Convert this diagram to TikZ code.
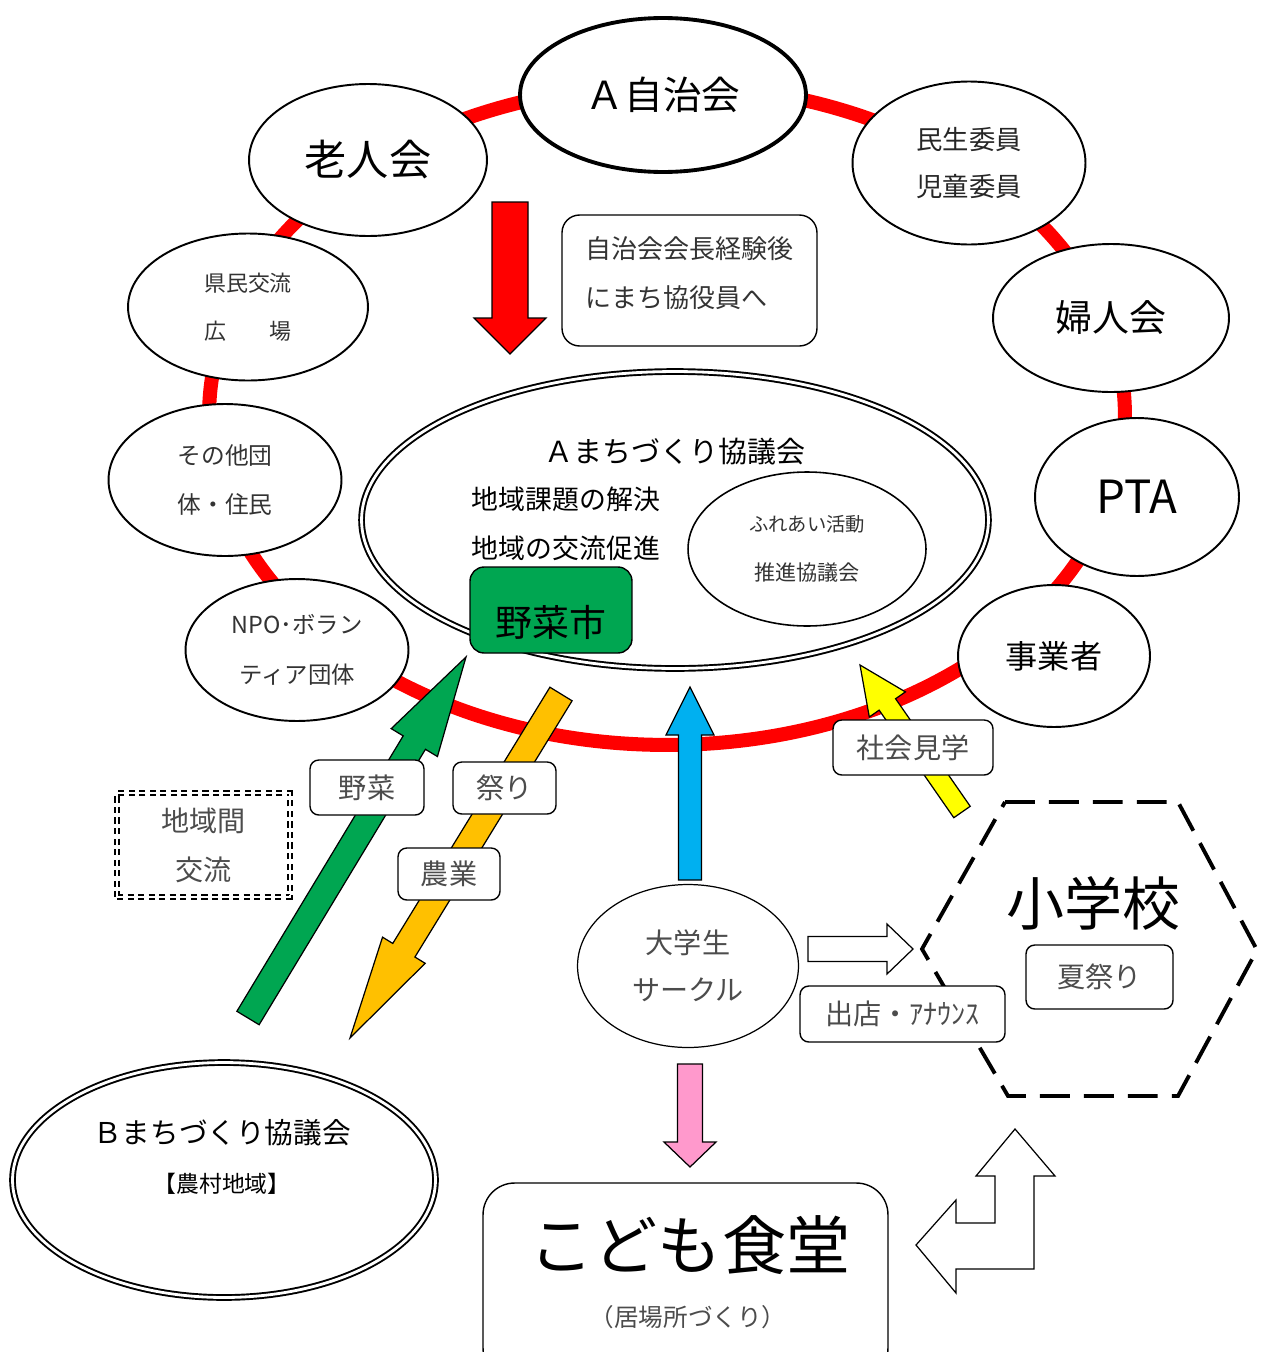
\documentclass[tikz,border=0pt]{standalone}
\usepackage{fontspec}
\setmainfont{Noto Sans CJK JP}
\usetikzlibrary{shapes.geometric,calc}

\definecolor{yasaigreen}{RGB}{0,166,81}
\definecolor{matsuriorange}{RGB}{255,192,0}
\definecolor{gakuseiblue}{RGB}{0,176,240}
\definecolor{kengakuyellow}{RGB}{255,255,0}
\definecolor{shokudopink}{RGB}{255,153,204}

% block arrow: [style]{tail}{tip}{half shaft}{half head}{head length}
\newcommand{\blockarrow}[6][]{%
    \coordinate (neck) at ($(#3)!#6!(#2)$);
    \draw[blockline,#1] ($(#2)!#4!90:(#3)$) -- ($(neck)!#4!90:(#3)$)
        -- ($(neck)!#5!90:(#3)$) -- (#3) -- ($(neck)!#5!-90:(#3)$)
        -- ($(neck)!#4!-90:(#3)$) -- ($(#2)!#4!-90:(#3)$) -- cycle;
}

\begin{document}
\begin{tikzpicture}[x=0.02cm, y=-0.02cm]

    % Define styles
    \tikzset{
        ring/.style={line width=8pt, draw=red},
        member/.style={ellipse, draw=black, line width=1.1pt, fill=white, inner sep=0pt, align=center},
        council/.style={ellipse, draw=black, double, double distance=1.6pt, line width=1.1pt, fill=white, inner sep=0pt},
        tagbox/.style={rectangle, draw=black, rounded corners=5pt, line width=0.8pt, fill=white, inner sep=0pt, align=center, text=black!70, font=\fontsize{16}{28}\selectfont},
        blockline/.style={draw=black, line width=0.7pt}
    }

    \useasboundingbox (0,0) rectangle (1262,1352);
    \clip (0,0) rectangle (1262,1352);

    % Red ring joining the groups
    \draw[ring] (667,415) ellipse [x radius=9.16cm, y radius=6.6cm];

    % Groups on the ring
    \node[member, line width=2.2pt, minimum width=5.72cm, minimum height=3.08cm,
          font=\fontsize{22}{26}\selectfont] (jichikai) at (663,95) {Ａ自治会};
    \node[member, minimum width=4.76cm, minimum height=3.04cm,
          font=\fontsize{24}{28}\selectfont] (roujin) at (368,160) {老人会};
    \node[member, minimum width=4.66cm, minimum height=3.26cm, text=black!85,
          font=\fontsize{15}{27}\selectfont] (minsei) at (969,163) {民生委員\\児童委員};
    \node[member, minimum width=4.8cm, minimum height=2.94cm, text=black!80,
          font=\fontsize{12.5}{27}\selectfont] (kenmin) at (248,307) {県民交流\\広　　場};
    \node[member, minimum width=4.72cm, minimum height=2.96cm,
          font=\fontsize{21}{26}\selectfont] (fujin) at (1111,318) {婦人会};
    \node[member, minimum width=4.66cm, minimum height=3.04cm, text=black!80,
          font=\fontsize{13.5}{28}\selectfont] (sonota) at (225,480) {その他団\\体・住民};
    \node[member, minimum width=4.08cm, minimum height=3.16cm,
          font=\fontsize{26}{30}\selectfont] (pta) at (1137,497) {PTA};
    \node[member, minimum width=4.46cm, minimum height=2.84cm, text=black!80,
          font=\fontsize{13.3}{28.5}\selectfont] (npo) at (297,650) {NPO･ボラン\\ティア団体};
    \node[member, minimum width=3.84cm, minimum height=2.84cm,
          font=\fontsize{18.3}{22}\selectfont] (jigyou) at (1054,656) {事業者};

    % A council in the middle
    \node[council, minimum width=12.54cm, minimum height=5.94cm] (acouncil) at (675,520) {};
    \node[font=\fontsize{16.5}{20}\selectfont] (acouncil-name) at (675,452) {Ａまちづくり協議会};
    \node[align=left, font=\fontsize{15.3}{28}\selectfont] (acouncil-aims) at (566,524) {地域課題の解決\\地域の交流促進};
    \node[member, line width=0.9pt, minimum width=4.76cm, minimum height=3.08cm, text=black!80,
          font=\fontsize{11}{28}\selectfont] (fureai) at (807,549) {ふれあい活動\\{\fontsize{12}{28}\selectfont 推進協議会}};
    \node[rectangle, draw=black, line width=0.8pt, rounded corners=8pt, fill=yasaigreen,
          minimum width=3.24cm, minimum height=1.72cm] (yasaiichi) at (551,610) {};
    \node[font=\fontsize{21}{24}\selectfont] (yasaiichi-name) at (551,622) {野菜市};

    % From the A association into the council
    \coordinate (red-tail) at (510,202);
    \coordinate (red-tip) at (510,354);
    \blockarrow[fill=red]{red-tail}{red-tip}{0.36cm}{0.72cm}{0.72cm}
    \node[tagbox, rounded corners=10pt, minimum width=5.1cm, minimum height=2.62cm] (note) at (689.5,280.5) {};
    \node[align=left, text=black!80, font=\fontsize{14.8}{28}\selectfont] (note-text) at (689.5,273) {自治会会長経験後\\にまち協役員へ};

    % Arrows between the councils, the students and the school
    \coordinate (green-tail) at (248,1018);
    \coordinate (green-tip) at (466,657);
    \coordinate (orange-tail) at (561,694);
    \coordinate (orange-tip) at (350,1038);
    \coordinate (blue-tail) at (690,880);
    \coordinate (blue-tip) at (690,687);
    \coordinate (yellow-tail) at (962,812);
    \coordinate (yellow-tip) at (860,665);
    \blockarrow[fill=yasaigreen]{green-tail}{green-tip}{0.26cm}{0.54cm}{2cm}
    \blockarrow[fill=matsuriorange]{orange-tail}{orange-tip}{0.26cm}{0.5cm}{2.06cm}
    \blockarrow[fill=gakuseiblue]{blue-tail}{blue-tip}{0.23cm}{0.48cm}{0.96cm}
    \blockarrow[fill=kengakuyellow]{yellow-tail}{yellow-tip}{0.2cm}{0.44cm}{0.96cm}

    \node[tagbox, minimum width=2.28cm, minimum height=1.1cm] (veg-tag) at (367,787.5) {野菜};
    \node[tagbox, minimum width=2.06cm, minimum height=1.04cm] (fes-tag) at (504.5,788) {祭り};
    \node[tagbox, minimum width=2.04cm, minimum height=1.04cm] (farm-tag) at (449,874) {農業};
    \node[tagbox, minimum width=3.2cm, minimum height=1.1cm] (visit-tag) at (913,747.5) {社会見学};

    % Exchange between areas
    \node[rectangle, draw=black, dash pattern=on 3.5pt off 2.5pt, double, double distance=1.5pt, line width=1.2pt,
          minimum width=3.46cm, minimum height=2.08cm, align=center, text=black!70,
          font=\fontsize{16}{28}\selectfont] (exchange) at (203.5,845) {地域間\\交流};

    % Elementary school
    \draw[line width=2.2pt, dash pattern=on 17pt off 8pt] (1005,802) -- (1178,802) -- (1257,950)
        -- (1178,1096) -- (1008,1096) -- (922,949) -- cycle;
    \node[font=\fontsize{33}{36}\selectfont] (shogakko) at (1093,903) {小学校};
    \node[tagbox, minimum width=2.94cm, minimum height=1.28cm] (natsu-tag) at (1099.5,977) {夏祭り};

    % Student circle
    \node[member, line width=0.7pt, minimum width=4.42cm, minimum height=3.26cm, text=black!70,
          font=\fontsize{16}{27}\selectfont] (daigaku) at (688,966) {大学生\\サークル};
    \coordinate (white-tail) at (808,949);
    \coordinate (white-tip) at (913,949);
    \blockarrow[fill=white]{white-tail}{white-tip}{0.25cm}{0.5cm}{0.52cm}
    \node[tagbox, minimum width=4.1cm, minimum height=1.12cm] (shop-tag) at (902.5,1014) {出店・ｱﾅｳﾝｽ};

    % Children's cafeteria
    \coordinate (pink-tail) at (690,1064);
    \coordinate (pink-tip) at (690,1167);
    \blockarrow[fill=shokudopink]{pink-tail}{pink-tip}{0.25cm}{0.52cm}{0.5cm}
    \node[rectangle, draw=black, line width=0.8pt, rounded corners=18pt,
          minimum width=8.1cm, minimum height=3.94cm] (kodomo) at (685.5,1281.5) {};
    \node[font=\fontsize{36.5}{40}\selectfont] (kodomo-name) at (690,1245) {こども食堂};
    \node[text=black!70, font=\fontsize{14}{18}\selectfont] (kodomo-sub) at (688,1317) {（居場所づくり）};

    % Two-way arrow between cafeteria and school
    \draw[blockline, fill=white] (1015,1129) -- (1055,1176) -- (1034,1176) -- (1034,1269)
        -- (956,1269) -- (956,1293) -- (916,1245) -- (956,1200) -- (956,1223)
        -- (995,1223) -- (995,1176) -- (976,1176) -- cycle;

    % B council
    \node[council, minimum width=8.46cm, minimum height=4.7cm] (bcouncil) at (224,1180) {};
    \node[align=center, font=\fontsize{16.3}{28}\selectfont] (bcouncil-name) at (222,1157)
        {Ｂまちづくり協議会\\{\fontsize{13}{28}\selectfont【農村地域】}};

\end{tikzpicture}
\end{document}
